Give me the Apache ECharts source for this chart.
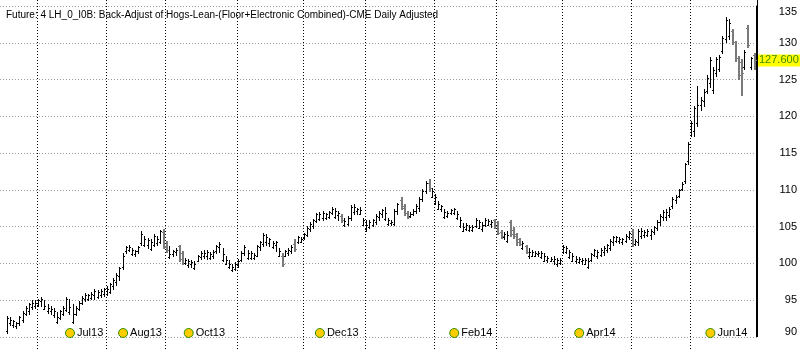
<!DOCTYPE html>
<html>
<head>
<meta charset="utf-8">
<title>Lean Hogs back-adjusted daily</title>
<script src="https://cdn.jsdelivr.net/npm/echarts@6/dist/echarts.min.js"></script>
<style>
  html, body { margin: 0; padding: 0; background: #fff; }
  #chart { width: 800px; height: 350px; }
</style>
</head>
<body>
<div id="chart"></div>
<script>
// Daily OHLC of the back-adjusted lean hog continuation, one entry per session.
const opens = [
  90.8, 91.8, 91.5, 91.4, 91.8, 92.2, 93.0, 93.4, 94.0, 94.2,
  94.3, 94.8, 93.8, 93.4, 93.4, 92.9, 92.0, 92.5, 93.1, 93.6,
  93.3, 92.0, 93.0, 93.8, 94.6, 95.1, 95.1, 95.3, 95.6, 95.4,
  95.6, 95.8, 95.8, 96.1, 96.9, 97.4, 98.2, 99.4, 101.6, 101.7,
  101.2, 101.2, 101.6, 102.7, 102.5, 102.4, 101.9, 102.5, 102.7, 102.9,
  104.2, 102.2, 100.8, 101.2, 101.5, 102.3, 101.3, 100.0, 99.7, 99.8,
  99.3, 100.3, 100.8, 100.9, 100.9, 100.7, 100.9, 101.6, 102.2, 100.4,
  99.9, 99.4, 99.0, 99.2, 99.7, 100.4, 101.3, 100.7, 100.7, 100.7,
  101.0, 102.1, 102.6, 102.8, 102.7, 102.2, 102.4, 101.0, 101.0, 101.0,
  101.4, 101.6, 102.6, 102.9, 102.9, 103.4, 103.8, 104.6, 105.0, 105.7,
  106.0, 106.1, 106.1, 106.3, 106.8, 106.3, 106.5, 106.4, 105.1, 105.3,
  106.1, 106.9, 107.0, 106.7, 105.2, 104.6, 104.9, 105.2, 105.5, 106.2,
  106.6, 106.0, 105.3, 105.4, 105.3, 107.0, 108.6, 107.8, 106.8, 106.4,
  106.7, 107.0, 107.5, 108.7, 109.8, 110.9, 109.0, 108.1, 107.4, 107.4,
  106.2, 106.4, 106.8, 106.8, 106.1, 105.0, 104.4, 104.6, 104.5, 104.5,
  105.0, 104.8, 104.6, 105.2, 105.2, 105.3, 105.8, 105.5, 104.2, 103.5,
  103.0, 105.6, 104.5, 103.9, 103.2, 102.0, 102.3, 100.9, 101.0, 101.0,
  101.2, 100.8, 100.3, 100.4, 100.3, 100.3, 99.8, 100.0, 101.5, 101.5,
  100.8, 100.3, 100.3, 100.1, 100.2, 99.9, 99.5, 100.4, 101.1, 100.9,
  101.1, 101.5, 101.8, 102.0, 102.8, 103.0, 103.0, 102.8, 103.0, 103.5,
  104.4, 102.6, 102.8, 103.7, 103.8, 103.8, 103.8, 104.2, 104.8, 105.5,
  106.2, 106.2, 106.5, 107.7, 108.6, 109.1, 110.1, 111.1, 113.8, 117.4,
  118.0, 119.0, 121.5, 122.0, 123.4, 124.5, 123.5, 125.8, 126.4, 128.8,
  130.5, 130.8, 131.5, 130.0, 127.8, 127.3, 126.7, 132.0, 126.6, 128.3
];
const highs = [
  92.8, 92.6, 92.3, 92.0, 92.8, 93.4, 94.1, 94.6, 94.9, 95.0,
  95.1, 95.4, 94.9, 94.4, 94.1, 93.9, 93.3, 93.6, 94.1, 95.4,
  95.1, 94.4, 94.1, 94.8, 95.5, 95.9, 95.8, 96.0, 96.4, 96.3,
  96.4, 96.6, 96.8, 97.3, 97.9, 98.6, 99.5, 101.3, 102.3, 102.5,
  102.0, 101.8, 102.3, 104.3, 103.6, 103.4, 103.2, 103.9, 103.6, 104.5,
  104.6, 103.0, 102.3, 101.8, 102.0, 102.5, 101.6, 100.7, 100.5, 100.4,
  100.2, 101.1, 101.6, 101.7, 101.8, 101.5, 101.7, 102.5, 102.8, 102.0,
  100.9, 100.4, 99.8, 100.1, 100.5, 101.6, 102.4, 101.8, 101.6, 101.4,
  102.5, 103.0, 104.1, 103.9, 103.4, 103.0, 103.0, 102.0, 101.3, 101.8,
  102.0, 102.4, 103.2, 103.7, 103.5, 104.1, 105.0, 105.5, 106.0, 106.8,
  106.9, 107.0, 106.8, 107.0, 107.6, 107.5, 107.0, 106.6, 106.1, 106.4,
  107.9, 108.0, 107.5, 107.6, 106.1, 105.9, 105.8, 106.0, 106.6, 107.0,
  107.4, 107.6, 106.1, 105.9, 107.3, 108.2, 108.9, 108.0, 107.0, 106.9,
  107.3, 108.0, 108.9, 110.0, 111.1, 111.4, 110.2, 109.4, 108.4, 107.9,
  107.3, 107.0, 107.4, 107.5, 107.0, 106.2, 105.4, 105.4, 105.2, 105.1,
  106.1, 105.9, 105.5, 106.1, 106.0, 105.8, 106.0, 105.7, 104.5, 104.2,
  104.3, 105.8, 104.9, 104.1, 103.4, 103.0, 102.5, 102.0, 101.7, 101.6,
  101.6, 101.6, 101.4, 100.9, 100.8, 100.9, 100.7, 100.7, 102.5, 102.3,
  101.8, 101.3, 100.9, 100.8, 100.7, 100.7, 100.7, 101.4, 101.9, 101.8,
  102.0, 102.3, 102.6, 103.2, 103.7, 103.7, 103.5, 103.4, 103.9, 104.3,
  104.6, 103.2, 104.6, 104.7, 104.5, 104.6, 104.6, 105.0, 105.8, 106.6,
  107.2, 107.3, 107.6, 108.9, 109.2, 110.1, 111.0, 113.6, 116.4, 119.3,
  121.3, 124.0, 122.5, 123.6, 125.5, 128.0, 126.6, 128.0, 128.3, 130.9,
  133.4, 133.2, 131.8, 130.2, 128.2, 127.7, 129.0, 132.3, 128.0, 128.6
];
const lows = [
  90.5, 91.6, 91.3, 91.2, 91.6, 92.0, 92.9, 93.1, 93.8, 93.9,
  94.1, 94.2, 93.7, 93.2, 93.0, 92.7, 91.9, 92.4, 92.9, 93.4,
  93.1, 91.9, 92.9, 93.6, 94.4, 94.8, 95.0, 95.1, 95.1, 95.3,
  95.4, 95.5, 95.7, 95.9, 96.4, 97.0, 97.7, 99.2, 101.4, 101.6,
  101.1, 101.0, 101.4, 102.5, 102.3, 102.0, 101.8, 102.3, 102.5, 102.7,
  102.0, 101.5, 100.7, 101.0, 101.1, 100.2, 99.8, 99.8, 99.5, 99.5,
  99.2, 100.2, 100.5, 100.7, 100.5, 100.5, 100.7, 101.4, 101.5, 100.2,
  99.8, 99.3, 98.9, 99.0, 99.5, 100.2, 101.1, 100.5, 100.5, 100.5,
  100.9, 101.8, 102.3, 102.5, 102.3, 102.0, 101.6, 100.9, 99.6, 100.9,
  101.1, 101.3, 101.6, 102.7, 102.8, 103.3, 103.6, 104.3, 104.8, 105.5,
  105.9, 105.9, 106.0, 106.1, 106.6, 106.1, 105.9, 105.6, 105.0, 105.1,
  105.9, 106.7, 106.7, 106.6, 105.1, 104.4, 104.8, 105.0, 105.3, 105.9,
  106.2, 105.9, 105.2, 105.1, 105.1, 106.7, 107.3, 106.5, 106.1, 106.2,
  106.5, 106.8, 107.0, 108.4, 109.5, 109.8, 108.9, 108.0, 107.3, 107.0,
  106.1, 106.2, 106.6, 106.7, 106.0, 104.9, 104.3, 104.5, 104.4, 104.3,
  104.9, 104.7, 104.4, 105.0, 105.1, 104.9, 104.8, 103.9, 103.4, 103.2,
  102.8, 103.6, 103.4, 102.5, 102.4, 101.9, 101.3, 100.7, 100.9, 100.9,
  101.0, 100.7, 100.2, 100.1, 100.2, 99.8, 99.6, 99.8, 101.3, 101.3,
  100.7, 100.2, 100.0, 100.0, 99.9, 99.8, 99.3, 100.2, 100.9, 100.7,
  100.9, 101.1, 101.5, 101.8, 102.5, 102.8, 102.7, 102.6, 102.8, 103.2,
  102.3, 102.4, 102.5, 103.4, 103.5, 103.6, 103.3, 103.9, 104.5, 105.2,
  105.9, 105.9, 106.3, 107.5, 108.2, 108.9, 109.9, 110.9, 113.5, 117.2,
  117.3, 118.6, 120.8, 121.4, 123.1, 123.9, 123.1, 125.4, 126.1, 128.6,
  130.1, 130.5, 129.8, 127.5, 125.0, 122.8, 126.4, 129.3, 126.4, 126.4
];
const closes = [
  92.5, 92.3, 92.1, 91.8, 92.6, 93.2, 93.9, 94.4, 94.6, 94.5,
  94.9, 95.1, 94.2, 93.9, 93.8, 93.5, 92.6, 93.4, 93.9, 95.1,
  94.0, 93.0, 93.9, 94.6, 95.3, 95.7, 95.6, 95.8, 96.2, 96.0,
  96.2, 96.4, 96.5, 97.1, 97.7, 98.4, 99.3, 101.0, 102.1, 102.2,
  101.7, 101.6, 102.2, 104.0, 103.3, 103.1, 102.8, 103.7, 103.3, 104.3,
  102.3, 101.7, 101.2, 101.6, 101.8, 100.5, 100.0, 100.4, 100.2, 100.1,
  99.9, 100.9, 101.4, 101.4, 101.5, 101.2, 101.5, 102.3, 102.6, 101.2,
  100.4, 99.9, 99.5, 99.8, 100.3, 101.4, 102.2, 101.3, 101.3, 101.1,
  102.3, 102.8, 103.8, 103.5, 103.2, 102.7, 102.8, 101.6, 99.9, 101.6,
  101.8, 102.2, 101.9, 103.5, 103.3, 104.0, 104.8, 105.3, 105.8, 106.6,
  106.6, 106.8, 106.6, 106.9, 107.4, 107.0, 106.8, 105.8, 105.7, 106.1,
  107.6, 107.6, 107.3, 107.2, 105.8, 105.2, 105.5, 105.8, 106.4, 106.8,
  107.2, 106.8, 105.8, 105.6, 107.1, 108.0, 107.5, 106.8, 106.3, 106.7,
  107.1, 107.8, 108.7, 109.8, 110.9, 110.2, 109.8, 108.9, 108.0, 107.7,
  106.9, 106.8, 107.2, 107.3, 106.7, 105.8, 104.9, 105.1, 104.9, 104.9,
  105.9, 105.5, 105.2, 105.9, 105.7, 105.6, 105.0, 104.1, 103.7, 103.9,
  103.8, 104.0, 103.7, 102.8, 102.6, 102.7, 101.5, 101.5, 101.5, 101.4,
  101.4, 101.3, 100.9, 100.7, 100.6, 100.6, 100.4, 100.4, 102.2, 102.0,
  101.5, 100.9, 100.6, 100.6, 100.4, 100.4, 100.2, 101.2, 101.7, 101.5,
  101.8, 102.0, 102.4, 103.0, 103.5, 103.5, 103.3, 103.2, 103.7, 104.1,
  102.6, 103.0, 104.4, 104.3, 104.2, 104.3, 104.4, 104.9, 105.6, 106.4,
  106.9, 106.9, 107.4, 108.7, 108.9, 109.9, 110.8, 113.4, 116.2, 119.0,
  121.0, 121.5, 122.2, 123.3, 125.2, 127.6, 126.2, 127.7, 128.0, 130.6,
  133.0, 132.6, 130.1, 127.8, 125.5, 125.8, 128.7, 129.6, 127.8, 127.6
];

// Sessions per calendar month, Jul 2013 (partial) through Jun 2014.
const monthNames = ['Jul13', 'Aug13', 'Sep13', 'Oct13', 'Nov13', 'Dec13',
                    'Jan14', 'Feb14', 'Mar14', 'Apr14', 'May14', 'Jun14'];
const sessionsPerMonth = [10, 22, 19, 23, 21, 20, 22, 20, 21, 22, 19, 21];

// Contract roll markers along the bottom: session index and contract name.
const rollSessions = [20, 37, 58, 100, 143, 183, 225];
const rollLabels = ['Jul13', 'Aug13', 'Oct13', 'Dec13', 'Feb14', 'Apr14', 'Jun14'];

// Price scale ticks.
const priceMin = 90, priceMax = 135, priceStep = 5;

const FONT = '"Liberation Sans", Arial, sans-serif';
const n = closes.length;
const ohlc = closes.map((c, i) => [i, opens[i], highs[i], lows[i], c]);

// Month boundaries fall between the last session of one month and the first of the next.
const monthEdges = [];
let acc = 0;
for (let k = 0; k < sessionsPerMonth.length - 1; k++) {
  acc += sessionsPerMonth[k];
  monthEdges.push([acc - 0.5]);
}

function renderBar(params, api) {
  const i = api.value(0);
  const o = api.value(1), h = api.value(2), l = api.value(3), c = api.value(4);
  const pH = api.coord([i, h]);
  const pL = api.coord([i, l]);
  const pO = api.coord([i, o]);
  const pC = api.coord([i, c]);
  const x = Math.floor(pH[0]);
  const top = Math.floor(pH[1]);
  const bottom = Math.ceil(pL[1]);
  const down = c < o;
  const color = down ? '#7a7a7a' : '#000000';
  const w = down ? 2 : 1;
  return {
    type: 'group',
    children: [
      { type: 'rect', shape: { x: x, y: top, width: w, height: Math.max(1, bottom - top) }, style: { fill: color } },
      { type: 'rect', shape: { x: x - 1, y: Math.floor(pO[1]), width: 1, height: 1 }, style: { fill: color } },
      { type: 'rect', shape: { x: x + w, y: Math.floor(pC[1]), width: 1, height: 1 }, style: { fill: color } }
    ]
  };
}

function renderMonthLine(params, api) {
  const x = Math.round(api.coord([api.value(0), priceMin])[0]) + 0.5;
  return {
    type: 'line',
    shape: { x1: x, y1: 0, x2: x, y2: api.getHeight() },
    style: { stroke: '#000', lineWidth: 1, lineDash: [1, 2] }
  };
}

const chart = echarts.init(document.getElementById('chart'), null, { renderer: 'canvas' });
const lastClose = closes[n - 1];

chart.setOption({
  animation: false,
  backgroundColor: '#ffffff',
  title: {
    text: 'Future: 4 LH_0_I0B: Back-Adjust of Hogs-Lean-(Floor+Electronic Combined)-CME Daily Adjusted',
    left: 6,
    top: 10,
    padding: 0,
    textStyle: { fontFamily: FONT, fontSize: 10, fontWeight: 'normal', color: '#000' }
  },
  grid: { left: 0, right: 43, top: 6, bottom: 13, containLabel: false },
  xAxis: {
    type: 'value',
    min: -2.4,
    max: n - 0.4,
    show: false
  },
  yAxis: {
    type: 'value',
    position: 'right',
    min: priceMin,
    max: priceMax,
    interval: priceStep,
    axisLine: { show: true, onZero: false, lineStyle: { color: '#000', width: 1 } },
    axisTick: { show: false },
    axisLabel: {
      align: 'right',
      margin: 41,
      fontFamily: FONT,
      fontSize: 11,
      color: '#000',
      verticalAlignMinLabel: 'bottom',
      verticalAlignMaxLabel: 'top'
    },
    splitLine: { show: true, lineStyle: { color: '#999', width: 1, type: [1, 2] } }
  },
  // Frame line on the price-scale side, running up to the top edge.
  graphic: [
    { type: 'line', shape: { x1: 757.5, y1: 0, x2: 757.5, y2: 337 }, style: { stroke: '#000', lineWidth: 1 }, silent: true, z: 10 }
  ],
  series: [
    {
      type: 'custom',
      name: 'months',
      data: monthEdges,
      renderItem: renderMonthLine,
      encode: { x: 0 },
      clip: false,
      silent: true,
      z: 1
    },
    {
      type: 'custom',
      name: 'LH',
      data: ohlc,
      renderItem: renderBar,
      encode: { x: 0, y: [1, 2, 3, 4] },
      silent: true,
      z: 3
    },
    {
      type: 'scatter',
      name: 'rolls',
      data: rollSessions.map((s, k) => ({ value: [s, priceMin], name: rollLabels[k] })),
      symbol: 'circle',
      symbolSize: 9,
      symbolOffset: [0, -4],
      clip: false,
      silent: true,
      z: 4,
      itemStyle: { color: '#ffcc00', borderColor: '#2f8f00', borderWidth: 1, opacity: 1 },
      label: {
        show: true,
        position: 'right',
        distance: 2,
        formatter: '{b}',
        fontFamily: FONT,
        fontSize: 11,
        color: '#000'
      },
      markLine: {
        silent: true,
        symbol: ['none', 'none'],
        animation: false,
        lineStyle: { color: 'rgba(0,0,0,0)', width: 0, type: 'solid' },
        label: {
          show: true,
          position: 'end',
          distance: 1,
          formatter: () => lastClose.toFixed(3),
          backgroundColor: '#ffff00',
          color: '#3f8a00',
          fontFamily: FONT,
          fontSize: 11,
          padding: [1, 2, 0, 2]
        },
        emphasis: { disabled: true },
        data: [{ yAxis: lastClose }]
      }
    }
  ]
});
</script>
</body>
</html>
